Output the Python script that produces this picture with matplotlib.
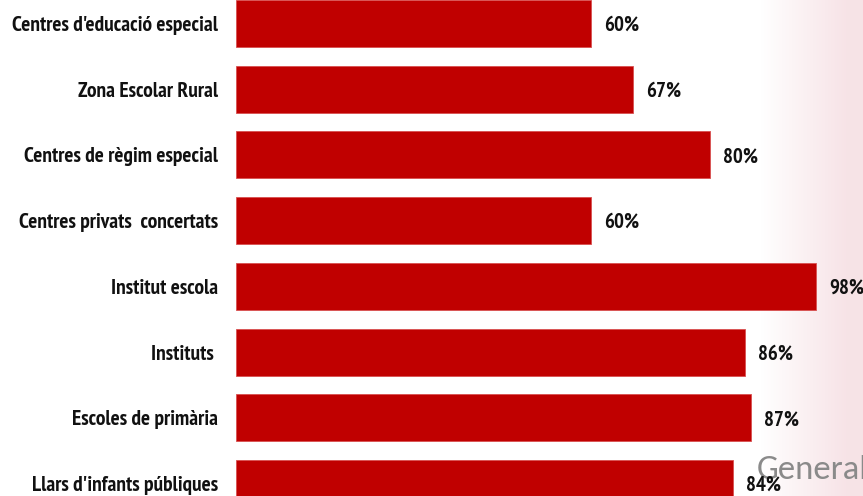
import numpy as np
import matplotlib
matplotlib.use("Agg")
import matplotlib.pyplot as plt

# Dades (de dalt a baix)
categories = [
    "Centres d'educació especial",
    "Zona Escolar Rural",
    "Centres de règim especial",
    "Centres privats  concertats",
    "Institut escola",
    "Instituts ",
    "Escoles de primària",
    "Llars d'infants públiques",
]
values = [60, 67, 80, 60, 98, 86, 87, 84]
value_labels = [f"{v}%" for v in values]

BAR_COLOR = "#C00000"
FONT = ["PT Sans Narrow", "Liberation Sans", "DejaVu Sans"]
FONT_LOGO = ["Carlito", "Liberation Sans", "DejaVu Sans"]

fig = plt.figure(figsize=(8.63, 4.96), dpi=100)
fig.patch.set_facecolor("white")

# fons: degradat rosat molt suau a la dreta
bg = fig.add_axes([0, 0, 1, 1], zorder=0)
bg.axis("off")
w = 863
xs = np.linspace(0, 1, w)
alpha = np.clip((xs - 0.88) / 0.10, 0, 1) * 0.45
img = np.ones((10, w, 4))
img[..., 0] = 0.93
img[..., 1] = 0.76
img[..., 2] = 0.79
img[..., 3] = alpha
bg.imshow(img, aspect="auto", extent=[0, 1, 0, 1])
bg.set_xlim(0, 1)
bg.set_ylim(0, 1)

ax = fig.add_axes([236 / 863, 0, 1 - 236 / 863, 1], zorder=1)
ax.patch.set_alpha(0)

y = np.arange(len(categories))
ax.barh(y, values, height=0.715, color=BAR_COLOR, edgecolor="#d85050", linewidth=0.6)

for yi, v, lab in zip(y, values, value_labels):
    ax.annotate(lab, xy=(v, yi), xytext=(13, -2), textcoords="offset pixels",
                ha="left", va="center", fontsize=15, fontweight="bold",
                family=FONT, color="#111111")

ax.set_xlim(0, 105.9)
ax.set_ylim(7.19, -0.358)
ax.set_yticks(y)
ax.set_yticklabels(categories, fontsize=15.4, fontweight="bold", family=FONT, color="#111111")
ax.tick_params(axis="y", length=0, pad=13)
ax.set_xticks([])
for s in ax.spines.values():
    s.set_visible(False)

fig.text(757 / 863, 1 - 470 / 496, "Generalitat", fontsize=25, color="#8a8a8a",
         family=FONT_LOGO, va="center", ha="left", zorder=0.5)

fig.savefig("out.png", dpi=100)
